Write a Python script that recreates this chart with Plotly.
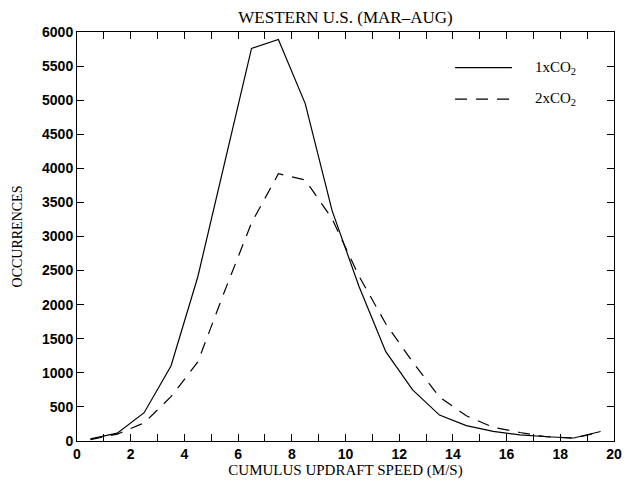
import plotly.graph_objects as go

speed = [0.5, 1.5, 2.5, 3.5, 4.5, 5.5, 6.5, 7.5, 8.5, 9.5,
         10.5, 11.5, 12.5, 13.5, 14.5, 15.5, 16.5, 17.5, 18.5, 19.5]
occ_1xco2 = [30, 115, 415, 1100, 2410, 4100, 5760, 5890, 4950, 3380,
             2270, 1310, 750, 380, 225, 140, 90, 62, 44, 140]
occ_2xco2 = [20, 100, 265, 650, 1160, 2200, 3200, 3920, 3830, 3260,
             2420, 1720, 1160, 645, 370, 200, 125, 62, 42, 130]

title_text = "WESTERN U.S. (MAR\u2013AUG)"
x_title = "CUMULUS UPDRAFT SPEED (M/S)"
y_title = "OCCURRENCES"
legend_names = ["1xCO<sub>2</sub>", "2xCO<sub>2</sub>"]

fig = go.Figure()
fig.add_trace(go.Scatter(x=speed, y=occ_1xco2, mode="lines", name=legend_names[0],
                         line=dict(color="black", width=1.2), showlegend=False))
fig.add_trace(go.Scatter(x=speed, y=occ_2xco2, mode="lines", name=legend_names[1],
                         line=dict(color="black", width=1.2, dash="12px,9px"), showlegend=False))

# manual legend
for i, (nm, dash) in enumerate(zip(legend_names, ["solid", "12px,9px"])):
    yy = 0.913 - i * 0.077
    fig.add_shape(type="line", xref="paper", yref="paper", x0=0.704, x1=0.81, y0=yy, y1=yy,
                  line=dict(color="black", width=1.2, dash=dash))
    fig.add_annotation(xref="paper", yref="paper", x=0.85, y=yy, text=nm, showarrow=False,
                       xanchor="left", yanchor="middle",
                       font=dict(family="Liberation Serif", size=15, color="black"))

axis_common = dict(showline=True, linecolor="black", linewidth=1, mirror="ticks",
                   ticks="inside", ticklen=7, tickcolor="black", tickwidth=1,
                   showgrid=False, zeroline=False, automargin=False,
                   tickfont=dict(family="Liberation Sans", size=14, color="black", weight="bold"))

fig.update_layout(
    width=629, height=485,
    margin=dict(l=77, r=15, t=32, b=44),
    paper_bgcolor="white", plot_bgcolor="white",
    title=dict(text=title_text, x=0.5, xref="paper", y=0.965, yref="container",
               xanchor="center", yanchor="middle",
               font=dict(family="Liberation Serif", size=17, color="black")),
    xaxis=dict(range=[0, 20], dtick=2, tick0=0,
               minor=dict(dtick=1, ticks="inside", ticklen=7, tickcolor="black", showgrid=False),
               title=dict(text=x_title, standoff=2,
                          font=dict(family="Liberation Serif", size=15, color="black")),
               **axis_common),
    yaxis=dict(range=[0, 6000], dtick=500, tick0=0,
               title=dict(text=y_title, standoff=16,
                          font=dict(family="Liberation Serif", size=14, color="black")),
               **axis_common),
)

fig.write_html("out.html", config={"displayModeBar": False},
               post_script="document.body.style.margin='0';document.body.style.overflow='hidden';")
